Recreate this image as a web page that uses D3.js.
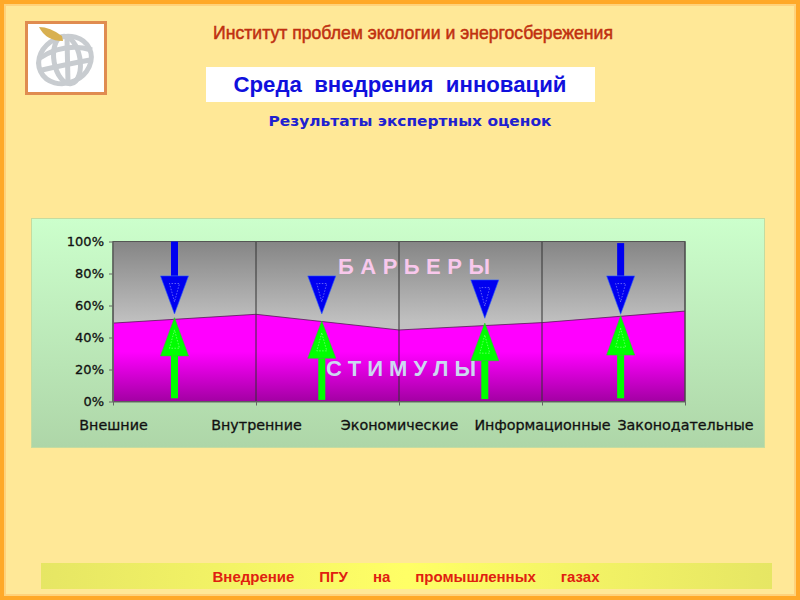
<!DOCTYPE html>
<html>
<head>
<meta charset="utf-8">
<script src="https://cdn.jsdelivr.net/npm/d3@7"></script>
<style>
  html, body { margin: 0; padding: 0; background: #ffe897; }
  svg { display: block; }
  .axis text { font-family: "DejaVu Sans", sans-serif; fill: #111; stroke: #111; stroke-width: 0.3px; }
  .axis.xa text { font-size: 14.3px; }
  .axis.ya text { font-size: 13px; }
  .axis path, .axis line { stroke: #666; }
</style>
</head>
<body>
<div id="chart"></div>
<script>
const categories = ["Внешние", "Внутренние", "Экономические", "Информационные", "Законодательные"]
const stimuli = [49, 54.5, 44.7, 49.3, 56.5]
const yTicks = [0, 20, 40, 60, 80, 100]

// arrows: position along the category axis (in category units), tip value, tail value
const arrowPos = [0.43, 1.46, 2.6, 3.55]
const downTips = [54.7, 54.7, 52, 54.5]
const downBases = [78.5, 78.5, 76, 78.5]
const downTails = [100, 78.5, 76, 99]
const upTips = [52.4, 50.3, 49, 53.6]
const upBases = [28.5, 27, 25.5, 29]
const upTails = [2, 1, 1.5, 2]

const width = 800, height = 600
const margin = { left: 113, right: 685, top: 241.5, bottom: 401.5 }
const sans = "Liberation Sans, Arial, sans-serif"

const svg = d3.select("#chart").append("svg")
  .attr("width", width)
  .attr("height", height)

const defs = svg.append("defs")

function gradient(id, stops, horizontal) {
  const g = defs.append("linearGradient")
    .attr("id", id)
    .attr("x1", 0).attr("y1", 0)
    .attr("x2", horizontal ? 1 : 0).attr("y2", horizontal ? 0 : 1)
  stops.forEach(s => g.append("stop").attr("offset", s[0]).attr("stop-color", s[1]))
}

gradient("panelFill", [[0, "#ccffcc"], [1, "#aed6a8"]])
gradient("grayFill", [[0, "#858585"], [0.5, "#c0c0c0"], [1, "#c4c4c4"]])
gradient("magentaFill", [[0, "#ff00ff"], [0.45, "#ff00ff"], [1, "#a300a3"]])
gradient("footFill", [[0, "#e6e664"], [0.5, "#ffff66"], [1, "#e6e664"]], true)

// page frame
svg.append("rect").attr("width", width).attr("height", height).attr("fill", "#ffe897")
svg.append("rect").attr("x", 2).attr("y", 2).attr("width", 796).attr("height", 596)
  .attr("fill", "none").attr("stroke", "#ffa928").attr("stroke-width", 4)
svg.append("rect").attr("x", 5).attr("y", 5).attr("width", 790).attr("height", 590)
  .attr("fill", "none").attr("stroke", "#ffd27a").attr("stroke-width", 2)

// logo
const logo = svg.append("g")
logo.append("rect").attr("x", 26.5).attr("y", 22.5).attr("width", 79).attr("height", 71)
  .attr("fill", "#fff").attr("stroke", "#e08c50").attr("stroke-width", 3)
const globe = logo.append("g").attr("fill", "none").attr("stroke", "#c8ccd0").attr("stroke-width", 5)
globe.append("ellipse").attr("cx", 65).attr("cy", 60).attr("rx", 27).attr("ry", 23)
  .attr("transform", "rotate(-25 65 60)")
globe.append("ellipse").attr("cx", 67).attr("cy", 60).attr("rx", 13).attr("ry", 24)
  .attr("transform", "rotate(-10 67 60)")
globe.append("path").attr("d", "M40 58 Q65 42 92 50")
globe.append("path").attr("d", "M42 70 Q68 64 90 60")
globe.append("path").attr("d", "M67 38 L68 83")
logo.append("path").attr("d", "M39 27 Q50 27 62 36 L63 41 Q46 41 39 27 Z").attr("fill", "#d8b050")

// titles
svg.append("text").attr("x", 413).attr("y", 39).attr("text-anchor", "middle")
  .attr("font-family", sans).attr("font-size", 18.5).attr("font-weight", 400)
  .attr("stroke", "#c03010").attr("stroke-width", 0.5).attr("fill", "#c03010")
  .attr("textLength", 400).attr("lengthAdjust", "spacingAndGlyphs")
  .text("Институт проблем экологии и энергосбережения")

svg.append("rect").attr("x", 206).attr("y", 67).attr("width", 389).attr("height", 35).attr("fill", "#fff")
svg.append("text").attr("x", 400).attr("y", 92).attr("text-anchor", "middle")
  .attr("font-family", sans).attr("font-size", 22).attr("font-weight", 700)
  .attr("fill", "#1010dd").attr("textLength", 333).attr("lengthAdjust", "spacingAndGlyphs")
  .style("white-space", "pre").text("Среда  внедрения  инноваций")

svg.append("text").attr("x", 410).attr("y", 126).attr("text-anchor", "middle")
  .attr("font-family", "DejaVu Sans, sans-serif").attr("font-size", 14).attr("font-weight", 700)
  .attr("fill", "#2020d0").attr("textLength", 283).attr("lengthAdjust", "spacingAndGlyphs")
  .text("Результаты экспертных оценок")

// chart panel
svg.append("rect").attr("x", 31.5).attr("y", 218.5).attr("width", 733).attr("height", 229)
  .attr("fill", "url(#panelFill)").attr("stroke", "#c4dca0")

const x = d3.scalePoint().domain(categories).range([margin.left, margin.right])
const y = d3.scaleLinear().domain([0, 100]).range([margin.bottom, margin.top])
const xPos = d3.scaleLinear().domain([0, categories.length - 1]).range([margin.left, margin.right])

const rows = categories.map((c, i) => ({ cat: c, v: stimuli[i] }))

// barriers fill the rest up to 100%
svg.append("rect")
  .attr("x", x.range()[0]).attr("y", y(100))
  .attr("width", x.range()[1] - x.range()[0]).attr("height", y(0) - y(100))
  .attr("fill", "url(#grayFill)")

svg.append("path").datum(rows)
  .attr("fill", "url(#magentaFill)")
  .attr("d", d3.area().x(d => x(d.cat)).y0(y(0)).y1(d => y(d.v)))

svg.append("path").datum(rows)
  .attr("fill", "none").attr("stroke", "#551a55").attr("stroke-width", 0.8)
  .attr("d", d3.line().x(d => x(d.cat)).y(d => y(d.v)))

svg.selectAll("line.drop").data(categories)
  .join("line").attr("class", "drop")
  .attr("x1", d => x(d)).attr("x2", d => x(d))
  .attr("y1", y(100)).attr("y2", y(0))
  .attr("stroke", "#333").attr("stroke-width", 1)

svg.append("rect")
  .attr("x", margin.left).attr("y", y(100))
  .attr("width", margin.right - margin.left).attr("height", y(0) - y(100))
  .attr("fill", "none").attr("stroke", "#555")

svg.append("g").attr("class", "axis xa")
  .attr("transform", `translate(0,${y(0)})`)
  .call(d3.axisBottom(x).tickSize(4).tickSizeOuter(0).tickPadding(14))
svg.append("g").attr("class", "axis ya")
  .attr("transform", `translate(${margin.left},0)`)
  .call(d3.axisLeft(y).tickValues(yTicks).tickFormat(d => d + "%").tickSize(4).tickSizeOuter(0).tickPadding(5))

// overlay arrows
function arrow(px, tip, base, tail, fill, stroke) {
  const g = svg.append("g")
  if (Math.abs(tail - base) > 0) {
    g.append("rect")
      .attr("x", px - 3.5).attr("width", 7)
      .attr("y", Math.min(y(base), y(tail)))
      .attr("height", Math.abs(y(base) - y(tail)))
      .attr("fill", fill)
  }
  g.append("path")
    .attr("d", d3.line()([[px, y(tip)], [px - 14, y(base)], [px + 14, y(base)]]) + "Z")
    .attr("fill", fill).attr("stroke", stroke).attr("stroke-width", 0.6)
  const yBase = y(base), yTip = y(tip)
  const a = yBase + (yTip - yBase) * 0.2, b = yBase + (yTip - yBase) * 0.68
  g.append("path")
    .attr("d", d3.line()([[px, b], [px - 5, a], [px + 5, a]]) + "Z")
    .attr("fill", "none").attr("stroke", "#ffffff").attr("stroke-opacity", 0.55)
    .attr("stroke-width", 0.7).attr("stroke-dasharray", "1.5 1.5")
}

arrowPos.forEach((p, i) => {
  arrow(xPos(p), downTips[i], downBases[i], downTails[i], "#0000f0", "#3060ff")
  arrow(xPos(p), upTips[i], upBases[i], upTails[i], "#00ff00", "#30c030")
})

svg.append("text").attr("x", 414).attr("y", 274).attr("text-anchor", "middle")
  .attr("font-family", sans).attr("font-size", 22).attr("font-weight", 700)
  .attr("fill", "#f8c8ec").attr("textLength", 152)
  .text("Б А Р Ь Е Р Ы")

svg.append("text").attr("x", 401).attr("y", 376).attr("text-anchor", "middle")
  .attr("font-family", sans).attr("font-size", 22).attr("font-weight", 700)
  .attr("fill", "#ccd8f0").attr("textLength", 150)
  .text("С Т И М У Л Ы")

// footer band
svg.append("rect").attr("x", 41).attr("y", 563).attr("width", 731).attr("height", 26)
  .attr("fill", "url(#footFill)")
svg.append("text").attr("x", 406).attr("y", 582).attr("text-anchor", "middle")
  .attr("font-family", sans).attr("font-size", 15).attr("font-weight", 700)
  .attr("fill", "#e02010").attr("textLength", 387).attr("lengthAdjust", "spacingAndGlyphs")
  .style("white-space", "pre")
  .text("Внедрение      ПГУ      на      промышленных      газах")
</script>
</body>
</html>
